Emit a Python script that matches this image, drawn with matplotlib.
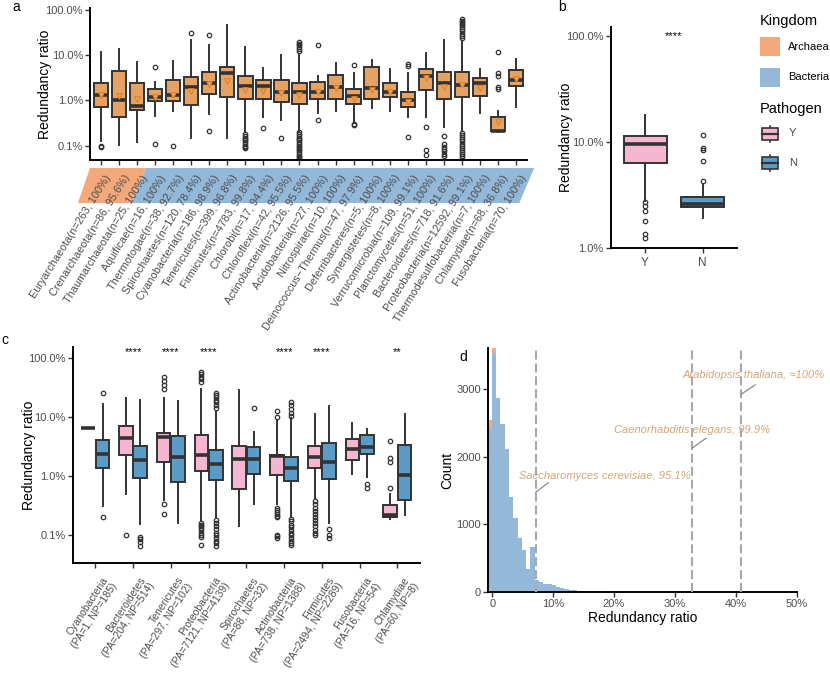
import numpy as np
import matplotlib
matplotlib.use("Agg")
import matplotlib.pyplot as plt
from matplotlib.patches import Polygon, Rectangle
from matplotlib.transforms import blended_transform_factory, ScaledTranslation

plt.rcParams['font.family'] = ['Liberation Sans', 'DejaVu Sans']

W, H = 830, 673
EDGE = '#333333'
GRAY = '#4d4d4d'
ORANGE_BOX = '#e6a263'
ARCH = '#f4a97a'
BACT = '#93b8d8'
PINK = '#f5b6d1'
BLUE = '#5b9bc8'

# ---------------- panel a data (values in %) ----------------
phyla = ['Euryarchaeota', 'Crenarchaeota', 'Thaumarchaeota', 'Aquificae', 'Thermotogae',
         'Spirochaetes', 'Cyanobacteria', 'Tenericutes', 'Firmicutes', 'Chlorobi',
         'Chloroflexi', 'Actinobacteria', 'Acidobacteria', 'Nitrospirae',
         'Deinococcus\u2212Thermus', 'Deferribacteres', 'Synergistetes', 'Verrucomicrobia',
         'Planctomycetes', 'Bacteroidetes', 'Proteobacteria', 'Thermodesulfobacteria',
         'Chlamydiae', 'Fusobacteria']
phyla_n = [263, 86, 25, 16, 38, 120, 186, 399, 4783, 17, 42, 2126, 27, 10, 47, 5, 8, 109,
           51, 718, 12592, 7, 68, 70]
phyla_pct = ['100%', '95.6%', '100%', '100%', '92.7%', '78.4%', '98.9%', '96.8%', '99.8%',
             '94.4%', '95.5%', '95.5%', '100%', '100%', '97.9%', '100%', '100%', '99.1%',
             '100%', '91.6%', '99.1%', '100%', '36.8%', '100%']
n_archaea = 3

a_q1 = [0.71, 0.43, 0.60, 0.98, 0.95, 0.81, 1.38, 1.17, 1.05, 1.05, 0.91, 0.84, 1.10, 1.05,
        0.83, 1.08, 1.16, 0.71, 1.70, 1.10, 1.17, 1.27, 0.21, 2.10]
a_med = [1.33, 1.02, 0.77, 1.20, 1.30, 1.97, 2.40, 3.98, 2.13, 2.13, 1.57, 1.57, 1.57, 1.97,
         1.24, 1.87, 1.57, 1.00, 3.40, 2.40, 2.20, 2.40, 0.21, 2.85]
a_q3 = [2.48, 4.50, 2.40, 1.80, 2.85, 3.37, 4.35, 5.40, 3.50, 2.85, 2.85, 2.48, 2.50, 3.60,
        1.78, 5.60, 2.40, 1.50, 5.00, 4.35, 4.20, 3.10, 0.43, 4.70]
a_lo = [0.124, 0.105, 0.118, 0.46, 0.58, 0.145, 0.50, 0.145, 0.20, 0.44, 0.37, 0.21, 0.53,
        0.57, 0.32, 0.68, 0.58, 0.42, 0.43, 0.26, 0.21, 0.53, 0.20, 0.70]
a_hi = [11.6, 13.8, 7.2, 2.5, 7.5, 21.8, 16.9, 46.7, 15.5, 5.2, 10.2, 10.0, 3.5, 6.6, 4.0,
        7.9, 4.9, 4.1, 11.4, 21.8, 20.0, 5.0, 0.58, 8.2]
a_mean = [1.30, 1.25, 1.05, 1.20, 1.30, 1.60, 2.30, 2.70, 1.70, 1.60, 1.45, 1.33, 1.50, 1.87,
          1.10, 1.70, 1.57, 0.94, 3.10, 1.97, 2.20, 1.87, 0.34, 2.95]
a_out = [
    [0.096, 0.092], [], [], [5.6, 0.11], [0.10], [30.6], [28.0, 0.21], [],
    [0.18, 0.165, 0.15, 0.14, 0.13, 0.12, 0.11, 0.10, 0.095, 0.088],
    [0.25], [0.145],
    [19.5, 18.0, 16.5, 15.0, 13.5, 12.2, 0.20, 0.18, 0.165, 0.15, 0.14, 0.13, 0.12, 0.11,
     0.10, 0.092, 0.085, 0.078, 0.072, 0.066, 0.060, 0.055, 0.050],
    [16.9, 0.36], [], [6.1, 0.30, 0.28], [], [], [6.3, 5.7, 0.156],
    [0.26, 0.079, 0.062],
    [0.16, 0.11, 0.095, 0.085, 0.075, 0.066, 0.058],
    [62, 58, 54, 50, 46, 42, 38, 34, 30, 27, 24, 0.19, 0.17, 0.155, 0.14, 0.125, 0.11, 0.10,
     0.09, 0.08, 0.072, 0.065, 0.058, 0.052],
    [], [12.0, 4.0, 3.5, 2.0, 1.8], [],
]

# ---------------- panel b data ----------------
b_groups = ['Y', 'N']
b_q1 = [6.4, 2.43]
b_med = [9.6, 2.6]
b_q3 = [11.4, 3.03]
b_lo = [2.8, 1.93]
b_hi = [17.8, 4.05]
b_out = [[2.7, 2.5, 2.24, 1.82, 1.35, 1.25], [11.7, 8.8, 8.5, 6.7, 4.3]]

# ---------------- panel c data ----------------
c_phyla = ['Cyanobacteria', 'Bacteroidetes', 'Tenericutes', 'Proteobacteria', 'Spirochaetes',
           'Actinobacteria', 'Firmicutes', 'Fusobacteria', 'Chlamydiae']
c_pa = [1, 204, 297, 7121, 88, 738, 2494, 16, 60]
c_np = [185, 514, 102, 4139, 32, 1388, 2289, 54, 8]
c_sig = ['', '****', '****', '****', '', '****', '****', '', '**']

pa_q1 = [6.5, 2.3, 1.75, 1.23, 0.60, 1.03, 1.37, 1.9, 0.20]
pa_med = [6.5, 4.5, 4.6, 2.3, 1.95, 2.2, 2.15, 2.85, 0.22]
pa_q3 = [6.5, 7.0, 5.4, 5.0, 3.3, 2.3, 3.2, 4.2, 0.32]
pa_lo = [6.5, 0.50, 0.40, 0.17, 0.14, 0.33, 0.43, 1.1, 0.19]
pa_hi = [6.5, 21.0, 21.0, 30.7, 28.7, 9.1, 11.2, 8.1, 0.49]
pa_out = [
    [], [0.10], [48, 42, 36, 30, 0.33, 0.23],
    [59, 54, 49, 44, 40, 0.16, 0.15, 0.14, 0.13, 0.12, 0.11, 0.10, 0.094, 0.067],
    [],
    [13.0, 10.0, 0.29, 0.27, 0.25, 0.23, 0.21, 0.20, 0.10, 0.095, 0.09],
    [0.38, 0.33, 0.29, 0.26, 0.23, 0.20, 0.18, 0.16, 0.14, 0.12, 0.11, 0.10],
    [], [4.0, 2.0, 1.75, 0.64],
]
np_q1 = [1.4, 0.92, 0.78, 0.86, 1.10, 0.82, 0.90, 2.4, 0.39]
np_med = [2.4, 1.88, 2.1, 1.6, 1.95, 1.35, 1.75, 3.1, 1.05]
np_q3 = [4.1, 3.2, 4.75, 2.8, 3.15, 2.1, 3.7, 4.9, 3.4]
np_lo = [0.31, 0.155, 0.16, 0.20, 0.33, 0.21, 0.16, 0.96, 0.22]
np_hi = [16.5, 19.4, 19.0, 13.0, 5.6, 9.8, 15.3, 6.3, 11.5]
np_out = [
    [26.0, 0.20], [0.094, 0.085, 0.076, 0.065], [],
    [26, 24, 22, 20, 18, 16, 14.5, 0.18, 0.16, 0.14, 0.125, 0.11, 0.10, 0.09, 0.08, 0.072,
     0.066],
    [14.3],
    [18.0, 16.0, 14.0, 12.0, 10.5, 0.19, 0.17, 0.15, 0.135, 0.12, 0.11, 0.10, 0.09, 0.08,
     0.072, 0.067],
    [0.125, 0.10, 0.09], [0.73, 0.64], [],
]

# ---------------- panel d data ----------------
bin_start = -0.75
bin_width = 0.7
bact_counts = [2420, 3540, 2880, 2480, 2110, 1400, 1090, 790, 620, 330, 670, 170, 150, 120,
               120, 95, 70, 50, 38, 28, 22, 16, 12, 9, 8, 15, 6, 4, 3, 2, 1, 1, 1, 1]
arch_counts = [120, 70, 0, 0, 0, 0, 0, 0, 0, 0, 0, 0, 0, 0, 0, 0, 0, 0, 0, 0, 0, 0, 0, 0,
               0, 0, 0, 0, 0, 0, 0, 0, 0, 0]
species = ['Saccharomyces cerevisiae, 95.1%', 'Caenorhabditis elegans, 99.9%',
           'Arabidopsis thaliana, \u2248100%']
species_ratio = [7.15, 32.8, 40.9]
label_xy = [(18.5, 1717), (32.8, 2399), (42.9, 3215)]
seg_end = [(9.2, 1617), (35.1, 2276), (43.2, 3068)]
seg_start_y = [1475, 2128, 2929]

fig = plt.figure(figsize=(W / 100, H / 100), dpi=100)


def px_axes(l, t, r, b):
    return fig.add_axes([l / W, 1 - b / H, (r - l) / W, (b - t) / H])


def style(ax):
    for s in ['top', 'right']:
        ax.spines[s].set_visible(False)
    for s in ['left', 'bottom']:
        ax.spines[s].set_linewidth(1.4)
        ax.spines[s].set_color('black')
    ax.tick_params(length=3.5, width=1, color='#333333', labelcolor=GRAY, labelsize=8,
                   pad=1.5)
    ax.minorticks_off()
    ax.set_facecolor('none')


def draw_boxes(ax, pos, q1, med, q3, lo, hi, out, colors, width):
    stats = []
    for i in range(len(pos)):
        stats.append(dict(q1=q1[i], med=med[i], q3=q3[i], whislo=lo[i], whishi=hi[i],
                          fliers=out[i]))
    b = ax.bxp(stats, positions=pos, widths=width, patch_artist=True, showcaps=False,
               boxprops=dict(edgecolor=EDGE, linewidth=1.4),
               medianprops=dict(color=EDGE, linewidth=2.6, solid_capstyle='butt'),
               whiskerprops=dict(color=EDGE, linewidth=1.4),
               flierprops=dict(marker='o', markersize=3.2, markerfacecolor='none',
                               markeredgecolor=EDGE, markeredgewidth=0.9))
    for patch, c in zip(b['boxes'], colors):
        patch.set_facecolor(c)


def shift_labels(ax, dx_px):
    off = ScaledTranslation(dx_px / 100, 0, fig.dpi_scale_trans)
    for lab in ax.get_xticklabels():
        lab.set_transform(lab.get_transform() + off)


log_ticks = [0.1, 1, 10, 100]
log_labels = ['0.1%', '1.0%', '10.0%', '100.0%']

# ---------------- panel a ----------------
ax_a = px_axes(90, 8.3, 527, 160)
xa = np.arange(len(phyla))
draw_boxes(ax_a, xa, a_q1, a_med, a_q3, a_lo, a_hi, a_out, [ORANGE_BOX] * len(phyla), 0.8)
ax_a.scatter(xa, a_mean, marker='v', s=16, facecolor='#f2a455', edgecolor='#d9822b',
             linewidth=0.8, zorder=5)
ax_a.set_yscale('log')
ax_a.set_ylim(0.048, 109)
ax_a.set_xlim(-0.6, len(phyla) - 0.4)
style(ax_a)
ax_a.set_yticks(log_ticks)
ax_a.set_yticklabels(log_labels)
ax_a.set_ylabel('Redundancy ratio', fontsize=10)
ax_a.yaxis.set_label_coords(-0.086, 0.5)
ax_a.set_xticks(xa)
ax_a.set_xticklabels([f'{p}(n={n}, {q})' for p, n, q in zip(phyla, phyla_n, phyla_pct)],
                     rotation=58, ha='right', va='top', rotation_mode='anchor',
                     fontsize=7.8)
ax_a.tick_params(axis='x', pad=6)
shift_labels(ax_a, 4)

# kingdom strip behind the labels
tr = blended_transform_factory(ax_a.transData, ax_a.transAxes)
top, bot, shear = -0.053, -0.284, 0.78
split = n_archaea - 0.5
ax_a.add_patch(Polygon([(-0.6, top), (split, top), (split - shear, bot), (-1.27, bot)],
                       closed=True, transform=tr, clip_on=False, facecolor=ARCH,
                       edgecolor='none', zorder=0))
ax_a.add_patch(Polygon([(split, top), (len(phyla), top), (len(phyla) - 0.83, bot),
                        (split - shear, bot)],
                       closed=True, transform=tr, clip_on=False, facecolor=BACT,
                       edgecolor='none', zorder=0))

# ---------------- panel b ----------------
ax_b = px_axes(610.7, 26.7, 737, 248.3)
draw_boxes(ax_b, [0, 1], b_q1, b_med, b_q3, b_lo, b_hi, b_out, [PINK, BLUE], 0.75)
ax_b.set_yscale('log')
ax_b.set_ylim(1, 122)
ax_b.set_xlim(-0.6, 1.6)
style(ax_b)
ax_b.set_yticks([1, 10, 100])
ax_b.set_yticklabels(['1.0%', '10.0%', '100.0%'])
ax_b.set_xticks([0, 1])
ax_b.set_xticklabels(b_groups, fontsize=8.5)
ax_b.tick_params(axis='x', pad=3)
ax_b.set_ylabel('Redundancy ratio', fontsize=10)
ax_b.yaxis.set_label_coords(-0.30, 0.5)
ax_b.text(0.5, 99, '****', ha='center', va='center', fontsize=8)

# ---------------- panel c ----------------
ax_c = px_axes(72.7, 346.7, 420, 563.3)
xc = np.arange(len(c_phyla))
draw_boxes(ax_c, xc - 0.19, pa_q1, pa_med, pa_q3, pa_lo, pa_hi, pa_out,
           [PINK] * len(c_phyla), 0.36)
draw_boxes(ax_c, xc + 0.19, np_q1, np_med, np_q3, np_lo, np_hi, np_out,
           [BLUE] * len(c_phyla), 0.36)
ax_c.set_yscale('log')
ax_c.set_ylim(0.033, 158)
ax_c.set_xlim(-0.6, len(c_phyla) - 0.4)
style(ax_c)
ax_c.set_yticks(log_ticks)
ax_c.set_yticklabels(log_labels)
ax_c.set_ylabel('Redundancy ratio', fontsize=10)
ax_c.yaxis.set_label_coords(-0.107, 0.5)
ax_c.set_xticks(xc)
ax_c.set_xticklabels([f'{p}\n(PA={a}, NP={b})' for p, a, b in zip(c_phyla, c_pa, c_np)],
                     rotation=57, ha='right', va='top', rotation_mode='anchor',
                     multialignment='right', fontsize=7.5, linespacing=1.1)
ax_c.tick_params(axis='x', pad=5)
shift_labels(ax_c, 6)
for x, s in zip(xc, c_sig):
    if s:
        ax_c.text(x, 128, s, ha='center', va='center', fontsize=8)

# ---------------- panel d ----------------
ax_d = px_axes(487.7, 348.3, 796.7, 591.7)
lefts = bin_start + bin_width * np.arange(len(bact_counts))
ax_d.bar(lefts, bact_counts, width=bin_width, align='edge', color=BACT, linewidth=0)
ax_d.bar(lefts, arch_counts, bottom=bact_counts, width=bin_width, align='edge',
         color=ARCH, linewidth=0)
for r in species_ratio:
    ax_d.axvline(r, color='#a8a8a8', lw=1.5, ls=(0, (4.3, 1.9)), zorder=3)
for name, (tx, ty), (ex, ey), r, sy in zip(species, label_xy, seg_end, species_ratio,
                                          seg_start_y):
    ax_d.plot([r, ex], [sy, ey], color='#7f7f7f', lw=0.8, zorder=4)
    ax_d.text(tx, ty, name, ha='center', va='center', fontsize=8, style='italic',
              color='#d4a776', clip_on=False, zorder=5)
ax_d.set_xlim(bin_start, 50)
ax_d.set_ylim(0, 3610)
style(ax_d)
ax_d.set_xticks([0, 10, 20, 30, 40, 50])
ax_d.set_xticklabels(['0', '10%', '20%', '30%', '40%', '50%'])
ax_d.set_yticks([0, 1000, 2000, 3000])
ax_d.set_xlabel('Redundancy ratio', fontsize=10, labelpad=2)
ax_d.set_ylabel('Count', fontsize=10)
ax_d.yaxis.set_label_coords(-0.109, 0.5)

# ---------------- legend and panel letters ----------------
lax = fig.add_axes([0, 0, 1, 1], zorder=-1)
lax.set_xlim(0, W)
lax.set_ylim(H, 0)
lax.axis('off')
lax.text(760, 21, 'Kingdom', fontsize=10.5, va='center')
lax.add_patch(Rectangle((760, 37), 20, 19, facecolor=ARCH, edgecolor='none'))
lax.text(788, 46.5, 'Archaea', fontsize=8, va='center')
lax.add_patch(Rectangle((760, 68), 20, 19, facecolor=BACT, edgecolor='none'))
lax.text(788, 77.5, 'Bacteria', fontsize=8, va='center')
lax.text(760, 109, 'Pathogen', fontsize=10.5, va='center')
for cy, col, lab in [(133.5, PINK, 'Y'), (163, BLUE, 'N')]:
    lax.plot([770, 770], [cy - 8, cy + 8], color=EDGE, lw=1.2)
    lax.add_patch(Rectangle((762, cy - 6), 16, 12, facecolor=col, edgecolor=EDGE, lw=1.2,
                            zorder=3))
    lax.plot([762, 778], [cy, cy], color=EDGE, lw=1.6, zorder=4)
    lax.text(789, cy, lab, fontsize=8, va='center', color=GRAY)

for letter, x, y in [('a', 16, 7), ('b', 562, 7), ('c', 5, 340), ('d', 463, 357)]:
    lax.text(x, y, letter, fontsize=10, va='center', ha='center')

fig.savefig('out.png', dpi=100)
